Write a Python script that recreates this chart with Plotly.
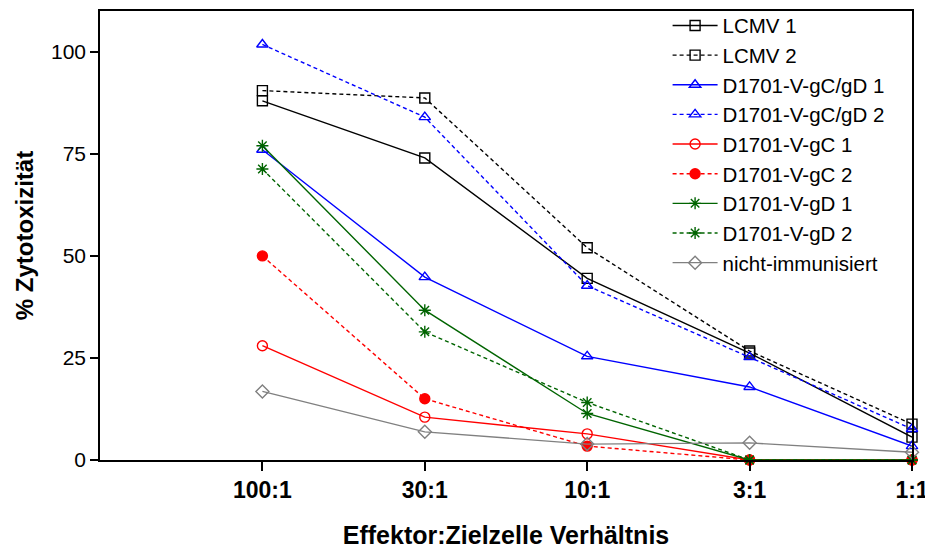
import plotly.graph_objects as go

categories = ["100:1", "30:1", "10:1", "3:1", "1:1"]

lcmv_1 = [88.0, 74.0, 44.5, 26.2, 5.6]
lcmv_2 = [90.5, 88.7, 52.0, 26.7, 8.8]
gcgd_1 = [76.0, 44.8, 25.4, 17.9, 3.4]
gcgd_2 = [101.8, 84.0, 42.7, 25.2, 7.6]
gc_1 = [28.0, 10.5, 6.4, 0.0, 0.0]
gc_2 = [50.0, 15.0, 3.4, 0.0, 0.0]
gd_1 = [77.0, 36.7, 11.4, 0.0, 0.0]
gd_2 = [71.3, 31.4, 14.1, 0.0, 0.0]
nicht = [16.8, 6.9, 3.9, 4.2, 1.9]

series_names = ["LCMV 1", "LCMV 2", "D1701-V-gC/gD 1", "D1701-V-gC/gD 2",
                "D1701-V-gC 1", "D1701-V-gC 2", "D1701-V-gD 1", "D1701-V-gD 2",
                "nicht-immunisiert"]
series_values = [lcmv_1, lcmv_2, gcgd_1, gcgd_2, gc_1, gc_2, gd_1, gd_2, nicht]
series_colors = ["#000000", "#000000", "#0000FF", "#0000FF", "#FF0000", "#FF0000",
                 "#006400", "#006400", "#808080"]
series_dash = ["solid", "4px,3px", "solid", "4px,3px", "solid", "4px,3px",
               "solid", "4px,3px", "solid"]
series_symbol = ["square-open", "square-open", "triangle-up-open", "triangle-up-open",
                 "circle-open", "circle", "asterisk-open", "asterisk-open", "diamond-open"]

fig = go.Figure()
for name, vals, col, dash, sym in zip(series_names, series_values, series_colors,
                                      series_dash, series_symbol):
    fig.add_trace(go.Scatter(
        x=categories, y=vals, name=name, mode="lines+markers",
        line=dict(color=col, width=1.4, dash=dash),
        marker=dict(symbol=sym, size=10, color=col,
                    line=dict(color=col, width=1.4)),
        cliponaxis=False,
    ))

fig.update_layout(
    width=925, height=549,
    margin=dict(l=100, r=13, t=11, b=89, autoexpand=False),
    paper_bgcolor="white", plot_bgcolor="white",
    font=dict(family="Liberation Sans, Arial, sans-serif", color="black"),
    showlegend=True,
    legend=dict(x=0.699, y=1.012, xanchor="left", yanchor="top",
                bgcolor="rgba(0,0,0,0)", borderwidth=0, maxheight=1,
                itemwidth=45,
                font=dict(size=20.5, family="Liberation Sans, Arial, sans-serif"),
                tracegroupgap=0),
    xaxis=dict(
        type="category", categoryorder="array", categoryarray=categories,
        range=[-1, 4], showline=True, linecolor="black", linewidth=1.5,
        mirror=True, ticks="outside", ticklen=9, tickcolor="black", tickwidth=1.5,
        showgrid=False, zeroline=False,
        tickfont=dict(size=23, family="Liberation Sans, Arial, sans-serif",
                      weight="bold"),
        title=dict(text="<b>Effektor:Zielzelle Verhältnis</b>",
                   font=dict(size=25), standoff=28),
    ),
    yaxis=dict(
        range=[0, 110], tickvals=[0, 25, 50, 75, 100],
        showline=True, linecolor="black", linewidth=1.5, mirror=True,
        ticks="outside", ticklen=8, tickcolor="black", tickwidth=1.5,
        showgrid=False, zeroline=False,
        tickfont=dict(size=21),
        title=dict(text="<b>% Zytotoxizität</b>", font=dict(size=24), standoff=11),
    ),
)

fig.write_html(
    "out.html",
    config={"displayModeBar": False},
    post_script="document.body.style.margin='0px';document.body.style.overflow='hidden';",
)
